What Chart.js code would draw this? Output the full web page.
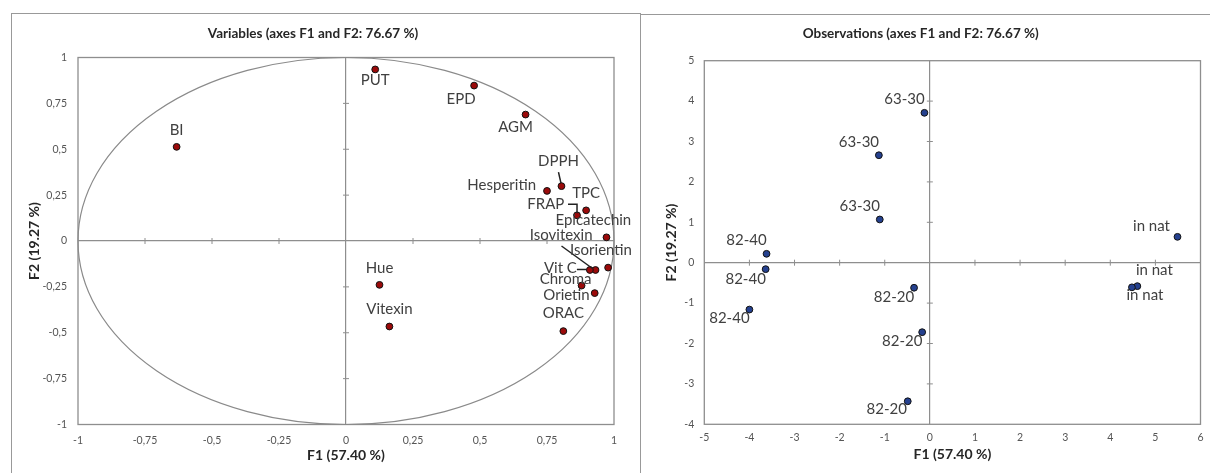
<!DOCTYPE html>
<html>
<head>
<meta charset="utf-8">
<script src="https://cdn.jsdelivr.net/npm/chart.js@4/dist/chart.umd.min.js"></script>
<style>
  html, body { margin:0; padding:0; background:#fff; width:1210px; height:473px; overflow:hidden; position:relative; }
  .panel { position:absolute; box-sizing:border-box; border:1.5px solid #999; border-bottom:none; background:#fff; }
  canvas { position:absolute; }
</style>
</head>
<body>
<div class="panel" style="left:11px; top:13px; width:630px; height:480px;"></div>
<div class="panel" style="left:640px; top:14px; width:620px; height:480px; border-right:none;"></div>
<canvas id="c1" width="627" height="459" style="left:12px; top:14px;"></canvas>
<canvas id="c2" width="582" height="458" style="left:641px; top:15px;"></canvas>
<script>
// ---------- data ----------
const varNames = ['PUT','EPD','AGM','BI','DPPH','Hesperitin','TPC','FRAP','Epicatechin','Isovitexin','Isorientin','Vit C','Chroma','Orietin','Hue','Vitexin','ORAC'];
const varF1 = [0.109,0.478,0.670,-0.632,0.804,0.750,0.896,0.862,0.972,0.931,0.978,0.910,0.879,0.928,0.125,0.162,0.811];
const varF2 = [0.935,0.847,0.689,0.513,0.299,0.273,0.167,0.140,0.020,-0.158,-0.145,-0.158,-0.243,-0.284,-0.239,-0.466,-0.491];

const obsNames = ['63-30','63-30','63-30','82-40','82-40','82-40','82-20','82-20','82-20','in nat','in nat','in nat'];
const obsF1 = [-0.12,-1.13,-1.11,-3.62,-3.64,-4.00,-0.35,-0.17,-0.49,5.49,4.60,4.48];
const obsF2 = [3.71,2.66,1.07,0.22,-0.16,-1.16,-0.62,-1.72,-3.43,0.64,-0.58,-0.61];

const varTicks = [-1,-0.75,-0.5,-0.25,0,0.25,0.5,0.75,1];
const obsXTicks = [-5,-4,-3,-2,-1,0,1,2,3,4,5,6];
const obsYTicks = [-4,-3,-2,-1,0,1,2,3,4,5];

// ---------- label placement (style) ----------
const varLabelPos = [[0,11,'center'],[-13,14,'center'],[-10,13,'center'],[0,-17,'center'],[-3,-25,'center'],
  [-11,-6,'right'],[0,-17,'center'],[-12.7,-11,'right'],[-51,-17,'left'],[-3,-35,'right'],[-38,-17,'left'],
  [-13,-2,'right'],[10,-6,'right'],[-5,2,'right'],[0,-17,'center'],[0,-17,'center'],[0,-18,'center']];
const varLeaders = {4:[[-3,-14],[-0.5,-3]], 7:[[-9,-11],[0,-11],[0,-2]], 9:[[-34,-24],[-3,-1.5]], 11:[[-13,-0.5],[-3,-0.5]]};
const obsLabelPos = [[-20,-14,'center'],[-20,-13,'center'],[-20,-13,'center'],[-20,-14,'center'],[-20,10,'center'],
  [-20,9,'center'],[-20,9,'center'],[-20,9,'center'],[-21,8,'center'],[-26,-11,'center'],[17,-16,'center'],[13,8,'center']];

const AXIS = '#8e8e8e';
const FONT = 'Lato, "Open Sans", sans-serif';

const decoPlugin = {
  id: 'deco',
  beforeDatasetsDraw(chart, args, opts) {
    const {ctx, chartArea: a, scales: {x, y}} = chart;
    ctx.save();
    ctx.strokeStyle = AXIS;
    ctx.lineWidth = 1.3;
    ctx.strokeRect(a.left, a.top, a.right - a.left, a.bottom - a.top);
    const x0 = x.getPixelForValue(0), y0 = y.getPixelForValue(0);
    ctx.lineWidth = 1;
    ctx.beginPath();
    x.ticks.forEach(t => { const px = x.getPixelForValue(t.value); if (t.value !== 0 && px > a.left + 1 && px < a.right - 1) { ctx.moveTo(px, y0 - 3); ctx.lineTo(px, y0 + 3); } });
    y.ticks.forEach(t => { const py = y.getPixelForValue(t.value); if (t.value !== 0 && py > a.top + 1 && py < a.bottom - 1) { ctx.moveTo(x0 - 3, py); ctx.lineTo(x0 + 3, py); } });
    ctx.stroke();
    if (opts.circle) {
      const rx = x.getPixelForValue(1) - x0, ry = y0 - y.getPixelForValue(1);
      ctx.beginPath();
      ctx.ellipse(x0, y0, rx, ry, 0, 0, Math.PI * 2);
      ctx.strokeStyle = '#8a8a8a';
      ctx.lineWidth = 1.2;
      ctx.stroke();
    }
    ctx.restore();
  },
  afterDatasetsDraw(chart, args, opts) {
    const {ctx} = chart;
    const meta = chart.getDatasetMeta(0);
    ctx.save();
    ctx.font = '15px ' + FONT;
    ctx.fillStyle = '#404040';
    ctx.textBaseline = 'middle';
    meta.data.forEach((pt, i) => {
      const p = opts.pos[i];
      ctx.textAlign = p[2];
      ctx.fillText(opts.names[i], pt.x + p[0], pt.y + p[1]);
      const ld = opts.leaders && opts.leaders[i];
      if (ld) {
        ctx.beginPath();
        ctx.strokeStyle = '#222';
        ctx.lineWidth = 1.5;
        ld.forEach((q, k) => { if (k === 0) ctx.moveTo(pt.x + q[0], pt.y + q[1]); else ctx.lineTo(pt.x + q[0], pt.y + q[1]); });
        ctx.stroke();
      }
    });
    ctx.restore();
  }
};

function makeChart(id, cfg) {
  const zeroGrid = {
    drawTicks: false,
    color: c => (c.tick && c.tick.value === 0) ? AXIS : 'rgba(0,0,0,0)',
    lineWidth: 1.2
  };
  return new Chart(document.getElementById(id), {
    type: 'scatter',
    data: {
      datasets: [{
        data: cfg.xs.map((v, i) => ({x: v, y: cfg.ys[i]})),
        backgroundColor: cfg.fill,
        borderColor: '#111',
        borderWidth: 1,
        pointRadius: 3.4
      }]
    },
    options: {
      responsive: false,
      animation: false,
      devicePixelRatio: 1,
      layout: { padding: { left: 0, right: cfg.padRight, top: 0, bottom: 0 } },
      plugins: {
        legend: { display: false },
        tooltip: { enabled: false },
        title: {
          display: true, text: cfg.title, color: '#262626',
          font: { family: FONT, size: 13.5, weight: 'bold', lineHeight: 1.2 },
          padding: { top: cfg.titleTop, bottom: cfg.titleBottom }
        },
        deco: { circle: cfg.circle, names: cfg.names, pos: cfg.pos, leaders: cfg.leaders }
      },
      scales: {
        x: {
          type: 'linear', min: cfg.xTicks[0], max: cfg.xTicks[cfg.xTicks.length - 1],
          afterBuildTicks: s => { s.ticks = cfg.xTicks.map(v => ({value: v})); },
          afterFit: s => { s.height = cfg.xH; },
          grid: zeroGrid,
          border: { display: false },
          ticks: { padding: cfg.xPad, color: '#555', font: { family: FONT, size: 10.5 }, callback: cfg.fmt, maxRotation: 0, autoSkip: false },
          title: { display: true, text: 'F1 (57.40 %)', color: '#262626', font: { family: FONT, size: 14, weight: 'bold' }, padding: { top: 0, bottom: cfg.xTitlePad } }
        },
        y: {
          type: 'linear', min: cfg.yTicks[0], max: cfg.yTicks[cfg.yTicks.length - 1],
          afterBuildTicks: s => { s.ticks = cfg.yTicks.map(v => ({value: v})); },
          afterFit: s => { s.width = cfg.yW; },
          grid: zeroGrid,
          border: { display: false },
          ticks: { padding: cfg.yPad, color: '#555', font: { family: FONT, size: 10.5 }, callback: cfg.fmt, autoSkip: false },
          title: { display: true, text: 'F2 (19.27 %)', color: '#262626', font: { family: FONT, size: 14, weight: 'bold' }, padding: { top: cfg.yTitlePad, bottom: 0 } }
        }
      }
    },
    plugins: [decoPlugin]
  });
}

const commaFmt = v => String(v).replace('.', ',');

// title line height = 13.5*1.2 = 16.2
makeChart('c1', {
  xs: varF1, ys: varF2, names: varNames, pos: varLabelPos, leaders: varLeaders,
  fill: '#9b0a0a', circle: true,
  title: 'Variables (axes F1 and F2: 76.67 %)',
  xTicks: varTicks, yTicks: varTicks, fmt: commaFmt,
  padRight: 25, titleTop: 11.2, titleBottom: 16.1, xH: 48.5, yW: 66,
  xPad: 9.5, yPad: 11, xTitlePad: 9.2, yTitlePad: 13.8
});

makeChart('c2', {
  xs: obsF1, ys: obsF2, names: obsNames, pos: obsLabelPos, leaders: null,
  fill: '#25418f', circle: false,
  title: 'Observations (axes F1 and F2: 76.67 %)',
  xTicks: obsXTicks, yTicks: obsYTicks, fmt: v => String(v),
  padRight: 22.5, titleTop: 10.2, titleBottom: 19.3, xH: 48.7, yW: 63.3,
  xPad: 7.5, yPad: 10, xTitlePad: 10.2, yTitlePad: 22.4
});
</script>
</body>
</html>
